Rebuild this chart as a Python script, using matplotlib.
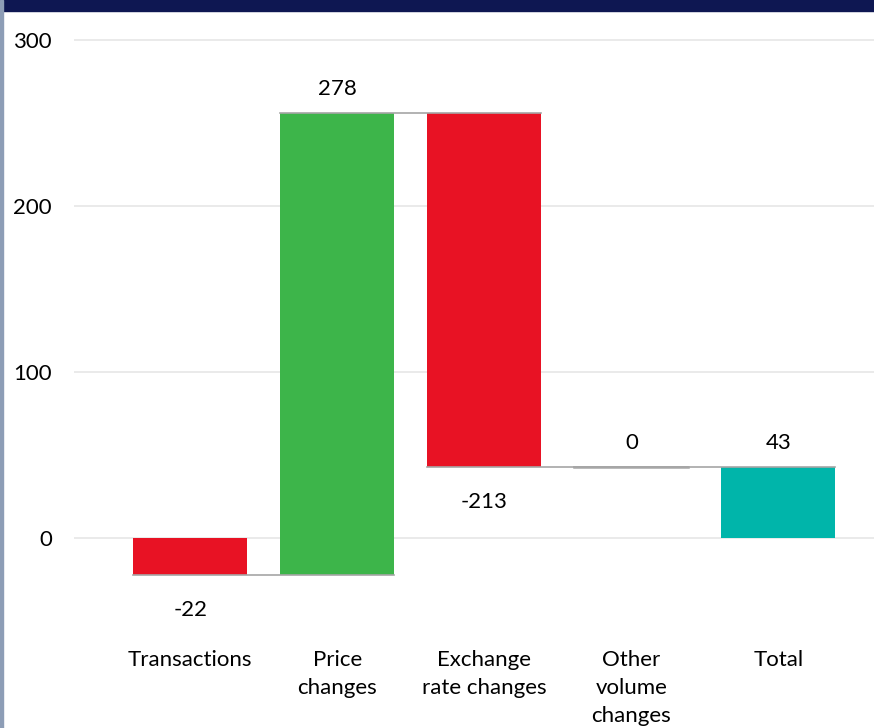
import numpy as np
import matplotlib.pyplot as plt
from matplotlib.patches import Rectangle

# waterfall data
categories = ['Transactions', 'Price\nchanges', 'Exchange\nrate changes', 'Other\nvolume\nchanges', 'Total']
changes = [-22, 278, -213, 0]
total = 43
y_ticks = [0, 100, 200, 300]

RED = '#E81224'
GREEN = '#3DB54A'
TEAL = '#00B5AA'
CONN = '#A6A6A6'
FS = 16

plt.rcParams['font.family'] = ['Lato', 'DejaVu Sans']

fig = plt.figure(figsize=(8.74, 7.28), dpi=100)
ax = fig.add_axes([74/874, 1 - 621/728, 1 - 74/874, (621 - 30)/728])

x = np.arange(len(categories))
w = 0.776

ends = np.cumsum(changes)
starts = np.concatenate([[0], ends[:-1]])

for i, (s, e, v) in enumerate(zip(starts, ends, changes)):
    lo = min(s, e)
    if v == 0:
        ax.plot([x[i] - w/2, x[i] + w/2], [e, e], color=CONN, lw=1.8, zorder=3)
    else:
        ax.bar(x[i], abs(v), bottom=lo, width=w, color=GREEN if v > 0 else RED, zorder=2)
    if v < 0:
        ax.annotate(f'{v}', (x[i], lo), xytext=(0, -25.5), textcoords='offset points',
                    ha='center', va='center', fontsize=FS)
    else:
        ax.annotate(f'{v}', (x[i], max(s, e)), xytext=(0, 17), textcoords='offset points',
                    ha='center', va='center', fontsize=FS)

# total bar
ax.bar(x[-1], total, width=w, color=TEAL, zorder=2)
ax.annotate(f'{total}', (x[-1], total), xytext=(0, 17), textcoords='offset points',
            ha='center', va='center', fontsize=FS)

# connector lines from each bar to the next
for i, e in enumerate(ends):
    ax.plot([x[i] - w/2, x[i + 1] + w/2], [e, e], color=CONN, lw=1.2, zorder=3)

ax.set_xlim(-0.79, 4.65)
ax.set_ylim(-50, 306)
ax.set_yticks(y_ticks)
ax.set_xticks(x)
ax.set_xticklabels(categories, fontsize=FS, linespacing=1.5, va='top')
ax.tick_params(axis='both', length=0, labelsize=FS)
ax.tick_params(axis='x', pad=21)
ax.tick_params(axis='y', pad=16)
ax.grid(axis='y', color='#E6E6E6', lw=1.2, zorder=0)
for sp in ax.spines.values():
    sp.set_visible(False)

# frame decoration: navy header strip and grey-blue left border
fig.patches.append(Rectangle((0, 1 - 11/728), 1, 11/728, transform=fig.transFigure,
                             color='#0E1752', zorder=5))
fig.patches.append(Rectangle((0, 0), 3/874, 1, transform=fig.transFigure,
                             color='#8D9DB6', zorder=6))

fig.savefig('out.png', dpi=100)
